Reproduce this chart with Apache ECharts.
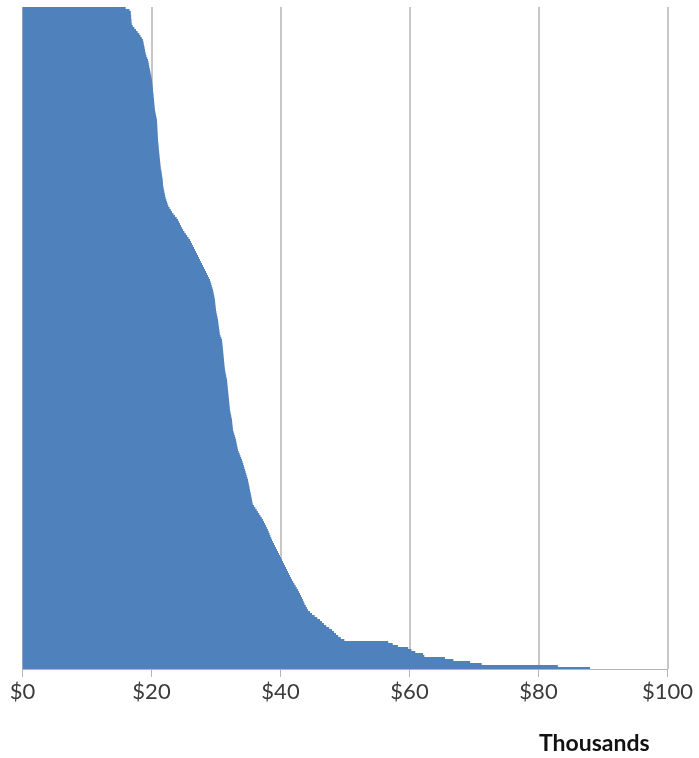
<!DOCTYPE html>
<html>
<head>
<meta charset="utf-8">
<script src="https://cdn.jsdelivr.net/npm/echarts@6/dist/echarts.min.js"></script>
<style>
  html, body { margin: 0; padding: 0; background: #ffffff; }
  #chart { width: 699px; height: 758px; }
</style>
</head>
<body>
<div id="chart"></div>
<script>
// Values in thousands of dollars, one per row, top row first
const incomes = [
  16.0, 16.6, 16.8, 16.8, 16.85, 16.85, 16.9, 16.9, 16.95, 17.1,
  17.35, 17.6, 17.85, 18.1, 18.3, 18.5, 18.68, 18.75, 18.8, 18.87,
  18.93, 18.99, 19.05, 19.12, 19.2, 19.33, 19.46, 19.52, 19.58, 19.64,
  19.7, 19.77, 19.83, 19.89, 19.96, 20.02, 20.08, 20.11, 20.14, 20.17,
  20.2, 20.23, 20.26, 20.3, 20.33, 20.36, 20.39, 20.42, 20.45, 20.48,
  20.51, 20.54, 20.6, 20.66, 20.72, 20.79, 20.85, 20.86, 20.88, 20.9,
  20.92, 20.93, 20.95, 20.97, 20.98, 21.0, 21.01, 21.04, 21.07, 21.1,
  21.13, 21.16, 21.19, 21.22, 21.25, 21.28, 21.32, 21.35, 21.38, 21.41,
  21.44, 21.5, 21.56, 21.6, 21.64, 21.7, 21.74, 21.76, 21.78, 21.82,
  21.87, 21.93, 21.99, 22.06, 22.12, 22.2, 22.3, 22.4, 22.5, 22.62,
  22.8, 23.0, 23.18, 23.4, 23.65, 23.9, 24.11, 24.26, 24.42, 24.57,
  24.72, 24.88, 25.1, 25.32, 25.53, 25.75, 25.97, 26.12, 26.28, 26.43,
  26.59, 26.74, 26.9, 27.05, 27.21, 27.36, 27.52, 27.67, 27.83, 27.98,
  28.14, 28.29, 28.45, 28.6, 28.76, 28.91, 29.07, 29.16, 29.25, 29.35,
  29.44, 29.53, 29.6, 29.66, 29.72, 29.78, 29.84, 29.87, 29.9, 29.94,
  29.97, 30.0, 30.06, 30.12, 30.19, 30.25, 30.31, 30.35, 30.39, 30.43,
  30.47, 30.52, 30.56, 30.6, 30.7, 30.82, 30.93, 30.96, 30.99, 31.03,
  31.06, 31.09, 31.12, 31.15, 31.18, 31.21, 31.24, 31.27, 31.3, 31.33,
  31.37, 31.4, 31.46, 31.52, 31.58, 31.65, 31.71, 31.74, 31.77, 31.8,
  31.83, 31.86, 31.89, 31.92, 31.96, 31.99, 32.02, 32.05, 32.08, 32.11,
  32.14, 32.17, 32.23, 32.3, 32.36, 32.42, 32.48, 32.51, 32.54, 32.58,
  32.61, 32.64, 32.73, 32.82, 32.92, 33.01, 33.1, 33.16, 33.22, 33.29,
  33.35, 33.41, 33.53, 33.66, 33.78, 33.91, 34.03, 34.12, 34.22, 34.31,
  34.4, 34.5, 34.59, 34.68, 34.77, 34.87, 34.96, 35.02, 35.08, 35.15,
  35.21, 35.27, 35.33, 35.4, 35.46, 35.52, 35.58, 35.64, 35.7, 35.9,
  36.1, 36.3, 36.5, 36.7, 36.9, 37.1, 37.29, 37.44, 37.6, 37.75,
  37.9, 38.06, 38.18, 38.31, 38.43, 38.56, 38.68, 38.84, 38.99, 39.15,
  39.3, 39.46, 39.61, 39.77, 39.92, 40.08, 40.23, 40.39, 40.54, 40.7,
  40.85, 41.01, 41.16, 41.32, 41.47, 41.63, 41.78, 41.97, 42.15, 42.34,
  42.52, 42.71, 42.87, 43.02, 43.18, 43.33, 43.49, 43.61, 43.74, 43.92,
  44.1, 44.26, 44.57, 44.88, 45.3, 45.7, 46.12, 46.43, 46.74, 47.1,
  47.55, 47.98, 48.3, 48.6, 48.95, 49.35, 49.9, 56.7, 57.4, 58.2,
  59.8, 60.3, 60.9, 62.1, 62.3, 65.5, 66.8, 69.4, 71.2, 83.0, 88.0
];
// Row identifiers (categories)
const rowIds = incomes.map((_, i) => String(i + 1));
// X-axis tick labels
const tickLabels = ['$0', '$20', '$40', '$60', '$80', '$100'];
const axisUnit = 'Thousands';

const chart = echarts.init(document.getElementById('chart'), null, { renderer: 'canvas' });
const option = {
  animation: false,
  backgroundColor: '#ffffff',
  grid: { left: 22.5, right: 31.5, top: 7, bottom: 89, containLabel: false },
  xAxis: {
    type: 'value',
    min: 0,
    max: 100,
    interval: 20,
    axisLine: { show: true, lineStyle: { color: '#b4b4b4', width: 1 } },
    axisTick: { show: true, length: 8, lineStyle: { color: '#b4b4b4', width: 1 } },
    splitLine: { show: true, lineStyle: { color: '#b4b4b4', width: 1.5 } },
    axisLabel: {
      margin: 12,
      color: '#3a3a3a',
      fontFamily: 'Lato',
      fontSize: 22,
      formatter: function (v) { return tickLabels[Math.round(v / 20)]; }
    }
  },
  yAxis: {
    type: 'category',
    data: rowIds,
    inverse: true,
    axisLine: { show: false },
    axisTick: { show: false },
    axisLabel: { show: false },
    splitLine: { show: false }
  },
  series: [{
    type: 'bar',
    data: incomes,
    barCategoryGap: '0%',
    barGap: '0%',
    itemStyle: { color: '#4f81bd' },
    silent: true
  }],
  graphic: [{
    type: 'text',
    left: 539,
    top: 732,
    style: {
      text: axisUnit,
      fill: '#111111',
      font: 'bold 23px Lato'
    }
  }]
};
chart.setOption(option);
</script>
</body>
</html>
